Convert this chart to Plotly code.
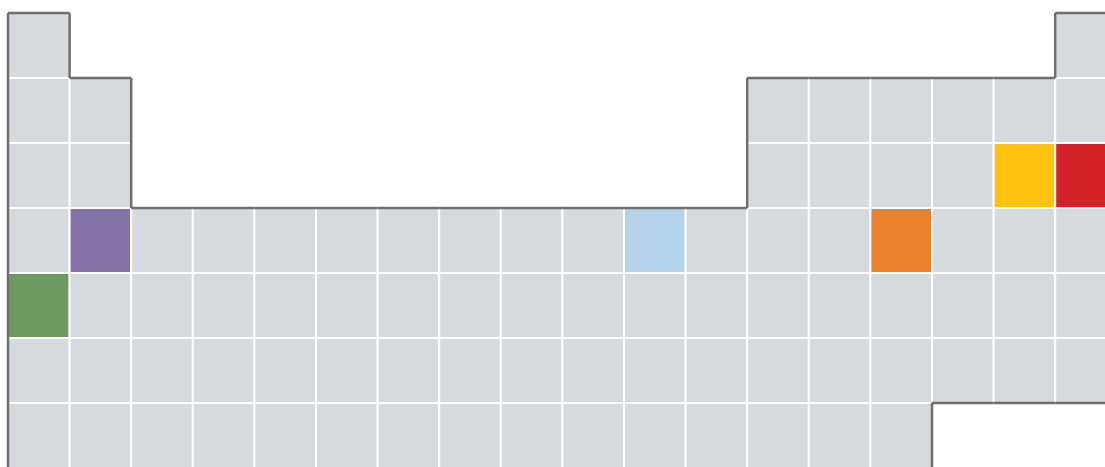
import plotly.graph_objects as go

# Periodic-table layout: row -> list of occupied group columns (1..18)
rows = [1, 2, 3, 4, 5, 6, 7]
row_columns = {
    1: [1, 18],
    2: [1, 2] + list(range(13, 19)),
    3: [1, 2] + list(range(13, 19)),
    4: list(range(1, 19)),
    5: list(range(1, 19)),
    6: list(range(1, 19)),
    7: list(range(1, 16)),
}

# Highlighted elements: (row, column, colour)
highlight_symbols = ["Cl", "Ar", "Ca", "Cu", "As", "Rb"]
highlight_rows = [3, 3, 4, 4, 4, 5]
highlight_cols = [17, 18, 2, 11, 15, 1]
highlight_colors = ["#FEC211", "#D42128", "#8672A9", "#B3D3E9", "#EA822E", "#6E9A60"]

base_color = "#D6D9DE"
outline_color = "#6E6E6E"

cells = [(r, c) for r in rows for c in row_columns[r]]
cell_set = set(cells)
hl = {(r, c): col for r, c, col in zip(highlight_rows, highlight_cols, highlight_colors)}

shapes = []
for r, c in cells:
    shapes.append(dict(
        type="rect", xref="x", yref="y",
        x0=c - 1, x1=c, y0=r - 1, y1=r,
        fillcolor=hl.get((r, c), base_color),
        line=dict(color="white", width=2),
        layer="below",
    ))

# Outline: edges of cells with no neighbour
ox, oy = [], []
for r, c in cells:
    if (r - 1, c) not in cell_set:
        ox += [c - 1, c, None]; oy += [r - 1, r - 1, None]
    if (r + 1, c) not in cell_set and r + 1 <= 7:
        ox += [c - 1, c, None]; oy += [r, r, None]
    if (r, c - 1) not in cell_set:
        ox += [c - 1, c - 1, None]; oy += [r - 1, r, None]
    if (r, c + 1) not in cell_set and c + 1 <= 18:
        ox += [c, c, None]; oy += [r - 1, r, None]

fig = go.Figure()
fig.add_trace(go.Scatter(
    x=ox, y=oy, mode="lines",
    line=dict(color=outline_color, width=2.5),
    hoverinfo="skip", showlegend=False,
))
fig.add_trace(go.Scatter(
    x=[c - 0.5 for c in highlight_cols], y=[r - 0.5 for r in highlight_rows],
    mode="markers", marker=dict(size=1, opacity=0),
    text=highlight_symbols, hoverinfo="text", showlegend=False,
))

W, H = 1105, 467
x_px0, col_w = 8, 61.6
y_px0, row_h = 13, 65
fig.update_layout(
    width=W, height=H,
    margin=dict(l=0, r=0, t=0, b=0),
    paper_bgcolor="white", plot_bgcolor="white",
    shapes=shapes,
    xaxis=dict(range=[-x_px0 / col_w, (W - x_px0) / col_w], visible=False, fixedrange=True),
    yaxis=dict(range=[(H - y_px0) / row_h, -y_px0 / row_h], visible=False, fixedrange=True),
)
fig.write_html(
    "out.html",
    config={"displayModeBar": False},
    post_script="document.body.style.margin='0';document.body.style.overflow='hidden';",
)
